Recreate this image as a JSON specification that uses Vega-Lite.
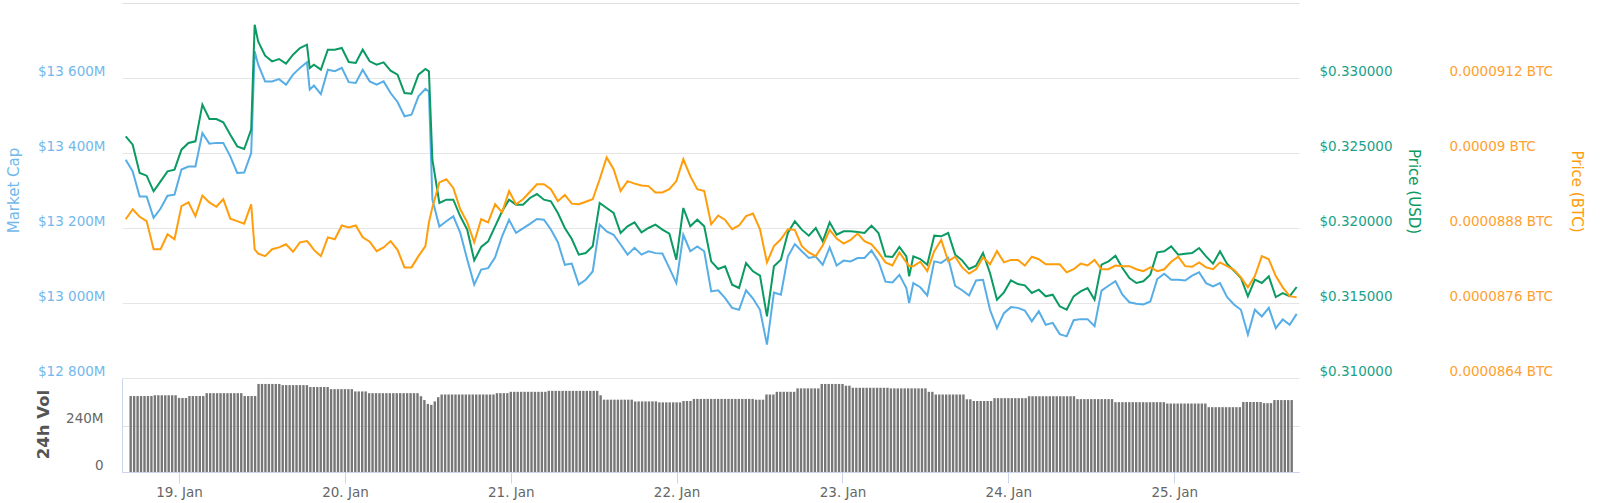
{
"$schema": "https://vega.github.io/schema/vega-lite/v6.json",
"background": "white",
"padding": {"left": 6, "top": 3, "right": 10, "bottom": 5},
"config": {"view": {"stroke": null}, "font": "DejaVu Sans"},
"datasets": {
"main": [
{"t":"2018-01-18T17:00","m":13382,"u":0.326111,"b":0.00008894},
{"t":"2018-01-18T18:00","m":13351,"u":0.325555,"b":0.0000891},
{"t":"2018-01-18T19:00","m":13284,"u":0.323666,"b":0.00008898},
{"t":"2018-01-18T20:00","m":13284,"u":0.323489,"b":0.00008891},
{"t":"2018-01-18T21:00","m":13227,"u":0.322444,"b":0.00008846},
{"t":"2018-01-18T22:00","m":13252,"u":0.323111,"b":0.00008846},
{"t":"2018-01-18T23:00","m":13286,"u":0.323778,"b":0.0000887},
{"t":"2018-01-19T00:00","m":13289,"u":0.323889,"b":0.00008862},
{"t":"2018-01-19T01:00","m":13356,"u":0.325222,"b":0.00008915},
{"t":"2018-01-19T02:00","m":13364,"u":0.325666,"b":0.00008921},
{"t":"2018-01-19T03:00","m":13364,"u":0.325778,"b":0.00008899},
{"t":"2018-01-19T04:00","m":13453,"u":0.328222,"b":0.00008932},
{"t":"2018-01-19T05:00","m":13425,"u":0.327266,"b":0.00008921},
{"t":"2018-01-19T06:00","m":13427,"u":0.327266,"b":0.00008914},
{"t":"2018-01-19T07:00","m":13427,"u":0.327044,"b":0.00008926},
{"t":"2018-01-19T08:00","m":13391,"u":0.326222,"b":0.00008895},
{"t":"2018-01-19T09:00","m":13347,"u":0.325444,"b":0.00008891},
{"t":"2018-01-19T10:00","m":13348,"u":0.325266,"b":0.00008887},
{"t":"2018-01-19T11:00","m":13400,"u":0.326555,"b":0.00008918},
{"t":"2018-01-19T11:30","m":13671,"u":0.333555,"b":0.00008846},
{"t":"2018-01-19T12:00","m":13636,"u":0.332444,"b":0.00008839},
{"t":"2018-01-19T13:00","m":13591,"u":0.331489,"b":0.00008835},
{"t":"2018-01-19T14:00","m":13591,"u":0.331111,"b":0.00008846},
{"t":"2018-01-19T15:00","m":13597,"u":0.331266,"b":0.00008849},
{"t":"2018-01-19T16:00","m":13582,"u":0.330955,"b":0.00008854},
{"t":"2018-01-19T17:00","m":13609,"u":0.331555,"b":0.00008842},
{"t":"2018-01-19T18:00","m":13627,"u":0.332000,"b":0.00008857},
{"t":"2018-01-19T19:00","m":13642,"u":0.332222,"b":0.00008859},
{"t":"2018-01-19T19:24","m":13569,"u":0.330666,"b":0.00008854},
{"t":"2018-01-19T20:00","m":13580,"u":0.330889,"b":0.00008845},
{"t":"2018-01-19T21:00","m":13557,"u":0.330555,"b":0.00008835},
{"t":"2018-01-19T22:00","m":13622,"u":0.331889,"b":0.00008865},
{"t":"2018-01-19T23:00","m":13618,"u":0.331889,"b":0.00008862},
{"t":"2018-01-20T00:00","m":13627,"u":0.332000,"b":0.00008884},
{"t":"2018-01-20T01:00","m":13589,"u":0.331066,"b":0.00008881},
{"t":"2018-01-20T02:00","m":13587,"u":0.331000,"b":0.00008884},
{"t":"2018-01-20T03:00","m":13622,"u":0.331889,"b":0.00008865},
{"t":"2018-01-20T04:00","m":13591,"u":0.331111,"b":0.00008858},
{"t":"2018-01-20T05:00","m":13582,"u":0.330889,"b":0.00008843},
{"t":"2018-01-20T06:00","m":13591,"u":0.331044,"b":0.00008849},
{"t":"2018-01-20T07:00","m":13560,"u":0.330489,"b":0.00008859},
{"t":"2018-01-20T08:00","m":13536,"u":0.330222,"b":0.00008845},
{"t":"2018-01-20T09:00","m":13498,"u":0.329000,"b":0.00008817},
{"t":"2018-01-20T10:00","m":13502,"u":0.328955,"b":0.00008817},
{"t":"2018-01-20T11:00","m":13551,"u":0.330222,"b":0.00008835},
{"t":"2018-01-20T12:00","m":13571,"u":0.330600,"b":0.00008851},
{"t":"2018-01-20T12:30","m":13564,"u":0.330444,"b":0.00008889},
{"t":"2018-01-20T13:00","m":13276,"u":0.324555,"b":0.00008913},
{"t":"2018-01-20T14:00","m":13204,"u":0.321666,"b":0.00008953},
{"t":"2018-01-20T15:00","m":13218,"u":0.321889,"b":0.00008958},
{"t":"2018-01-20T16:00","m":13231,"u":0.321889,"b":0.00008944},
{"t":"2018-01-20T17:00","m":13187,"u":0.320778,"b":0.0000891},
{"t":"2018-01-20T18:00","m":13116,"u":0.319889,"b":0.00008889},
{"t":"2018-01-20T19:00","m":13049,"u":0.317844,"b":0.00008857},
{"t":"2018-01-20T20:00","m":13089,"u":0.318733,"b":0.00008894},
{"t":"2018-01-20T21:00","m":13093,"u":0.319111,"b":0.00008889},
{"t":"2018-01-20T22:00","m":13122,"u":0.320111,"b":0.00008918},
{"t":"2018-01-20T23:00","m":13178,"u":0.321111,"b":0.00008905},
{"t":"2018-01-21T00:00","m":13222,"u":0.321889,"b":0.00008939},
{"t":"2018-01-21T01:00","m":13187,"u":0.321555,"b":0.00008918},
{"t":"2018-01-21T02:00","m":13199,"u":0.321555,"b":0.00008926},
{"t":"2018-01-21T03:00","m":13211,"u":0.322000,"b":0.00008938},
{"t":"2018-01-21T04:00","m":13224,"u":0.322266,"b":0.0000895},
{"t":"2018-01-21T05:00","m":13222,"u":0.321889,"b":0.0000895},
{"t":"2018-01-21T06:00","m":13196,"u":0.321778,"b":0.00008942},
{"t":"2018-01-21T07:00","m":13162,"u":0.321000,"b":0.00008923},
{"t":"2018-01-21T08:00","m":13102,"u":0.320000,"b":0.00008933},
{"t":"2018-01-21T09:00","m":13105,"u":0.319266,"b":0.00008919},
{"t":"2018-01-21T10:00","m":13049,"u":0.318222,"b":0.00008918},
{"t":"2018-01-21T11:00","m":13062,"u":0.318333,"b":0.00008922},
{"t":"2018-01-21T12:00","m":13084,"u":0.318778,"b":0.00008926},
{"t":"2018-01-21T13:00","m":13209,"u":0.321666,"b":0.00008958},
{"t":"2018-01-21T14:00","m":13191,"u":0.321333,"b":0.00008993},
{"t":"2018-01-21T15:00","m":13182,"u":0.321000,"b":0.00008974},
{"t":"2018-01-21T16:00","m":13156,"u":0.319666,"b":0.00008939},
{"t":"2018-01-21T17:00","m":13129,"u":0.320111,"b":0.00008955},
{"t":"2018-01-21T18:00","m":13147,"u":0.320378,"b":0.00008951},
{"t":"2018-01-21T19:00","m":13129,"u":0.319711,"b":0.00008948},
{"t":"2018-01-21T20:00","m":13138,"u":0.320000,"b":0.00008947},
{"t":"2018-01-21T21:00","m":13133,"u":0.320222,"b":0.00008937},
{"t":"2018-01-21T22:00","m":13132,"u":0.319889,"b":0.00008937},
{"t":"2018-01-21T23:00","m":13093,"u":0.319622,"b":0.00008942},
{"t":"2018-01-22T00:00","m":13053,"u":0.317889,"b":0.00008955},
{"t":"2018-01-22T01:00","m":13182,"u":0.321333,"b":0.0000899},
{"t":"2018-01-22T02:00","m":13138,"u":0.320111,"b":0.00008963},
{"t":"2018-01-22T03:00","m":13151,"u":0.320555,"b":0.00008942},
{"t":"2018-01-22T04:00","m":13138,"u":0.320111,"b":0.00008939},
{"t":"2018-01-22T05:00","m":13031,"u":0.317778,"b":0.00008886},
{"t":"2018-01-22T06:00","m":13034,"u":0.317266,"b":0.000089},
{"t":"2018-01-22T07:00","m":13013,"u":0.317444,"b":0.00008893},
{"t":"2018-01-22T08:00","m":12987,"u":0.316222,"b":0.00008878},
{"t":"2018-01-22T09:00","m":12982,"u":0.316000,"b":0.00008884},
{"t":"2018-01-22T10:00","m":13034,"u":0.317666,"b":0.00008899},
{"t":"2018-01-22T11:00","m":13012,"u":0.317111,"b":0.00008903},
{"t":"2018-01-22T12:00","m":12982,"u":0.316822,"b":0.00008878},
{"t":"2018-01-22T13:00","m":12889,"u":0.314111,"b":0.00008825},
{"t":"2018-01-22T14:00","m":13028,"u":0.317444,"b":0.00008851},
{"t":"2018-01-22T15:00","m":13022,"u":0.317889,"b":0.00008862},
{"t":"2018-01-22T16:00","m":13124,"u":0.319666,"b":0.00008878},
{"t":"2018-01-22T17:00","m":13157,"u":0.320444,"b":0.00008877},
{"t":"2018-01-22T18:00","m":13138,"u":0.319889,"b":0.00008851},
{"t":"2018-01-22T19:00","m":13120,"u":0.319489,"b":0.00008841},
{"t":"2018-01-22T20:00","m":13124,"u":0.320000,"b":0.00008835},
{"t":"2018-01-22T21:00","m":13102,"u":0.319111,"b":0.00008852},
{"t":"2018-01-22T22:00","m":13148,"u":0.320378,"b":0.00008877},
{"t":"2018-01-22T23:00","m":13100,"u":0.319555,"b":0.00008863},
{"t":"2018-01-23T00:00","m":13113,"u":0.319778,"b":0.00008855},
{"t":"2018-01-23T01:00","m":13111,"u":0.319778,"b":0.00008861},
{"t":"2018-01-23T02:00","m":13120,"u":0.319733,"b":0.00008871},
{"t":"2018-01-23T03:00","m":13120,"u":0.319666,"b":0.00008859},
{"t":"2018-01-23T04:00","m":13140,"u":0.320155,"b":0.00008854},
{"t":"2018-01-23T05:00","m":13111,"u":0.319666,"b":0.00008841},
{"t":"2018-01-23T06:00","m":13057,"u":0.318111,"b":0.00008825},
{"t":"2018-01-23T07:00","m":13055,"u":0.318066,"b":0.0000882},
{"t":"2018-01-23T08:00","m":13075,"u":0.318733,"b":0.00008841},
{"t":"2018-01-23T09:00","m":13040,"u":0.318111,"b":0.00008825},
{"t":"2018-01-23T09:24","m":13000,"u":0.316778,"b":0.00008819},
{"t":"2018-01-23T10:00","m":13053,"u":0.318111,"b":0.00008819},
{"t":"2018-01-23T11:00","m":13042,"u":0.317933,"b":0.00008826},
{"t":"2018-01-23T12:00","m":13020,"u":0.317555,"b":0.00008811},
{"t":"2018-01-23T13:00","m":13111,"u":0.319489,"b":0.00008843},
{"t":"2018-01-23T14:00","m":13107,"u":0.319444,"b":0.00008861},
{"t":"2018-01-23T15:00","m":13120,"u":0.319666,"b":0.00008827},
{"t":"2018-01-23T16:00","m":13046,"u":0.318222,"b":0.00008834},
{"t":"2018-01-23T17:00","m":13034,"u":0.317844,"b":0.00008817},
{"t":"2018-01-23T18:00","m":13020,"u":0.317266,"b":0.00008807},
{"t":"2018-01-23T19:00","m":13060,"u":0.317489,"b":0.00008814},
{"t":"2018-01-23T20:00","m":13062,"u":0.318333,"b":0.00008833},
{"t":"2018-01-23T21:00","m":12982,"u":0.317000,"b":0.00008822},
{"t":"2018-01-23T22:00","m":12933,"u":0.315222,"b":0.00008843},
{"t":"2018-01-23T23:00","m":12973,"u":0.315711,"b":0.00008825},
{"t":"2018-01-24T00:00","m":12989,"u":0.316511,"b":0.00008829},
{"t":"2018-01-24T01:00","m":12987,"u":0.316266,"b":0.00008829},
{"t":"2018-01-24T02:00","m":12980,"u":0.316178,"b":0.0000882},
{"t":"2018-01-24T03:00","m":12951,"u":0.315666,"b":0.00008834},
{"t":"2018-01-24T04:00","m":12978,"u":0.315889,"b":0.0000883},
{"t":"2018-01-24T05:00","m":12942,"u":0.315444,"b":0.00008822},
{"t":"2018-01-24T06:00","m":12947,"u":0.315555,"b":0.00008822},
{"t":"2018-01-24T07:00","m":12917,"u":0.314778,"b":0.00008822},
{"t":"2018-01-24T08:00","m":12911,"u":0.314555,"b":0.00008809},
{"t":"2018-01-24T09:00","m":12954,"u":0.315444,"b":0.00008814},
{"t":"2018-01-24T10:00","m":12957,"u":0.315778,"b":0.00008823},
{"t":"2018-01-24T11:00","m":12957,"u":0.316000,"b":0.0000882},
{"t":"2018-01-24T12:00","m":12938,"u":0.315222,"b":0.00008829},
{"t":"2018-01-24T13:00","m":13033,"u":0.317555,"b":0.00008814},
{"t":"2018-01-24T14:00","m":13046,"u":0.317778,"b":0.00008814},
{"t":"2018-01-24T15:00","m":13058,"u":0.318155,"b":0.0000882},
{"t":"2018-01-24T16:00","m":13022,"u":0.317333,"b":0.00008819},
{"t":"2018-01-24T17:00","m":13002,"u":0.316666,"b":0.00008819},
{"t":"2018-01-24T18:00","m":12998,"u":0.316333,"b":0.00008814},
{"t":"2018-01-24T19:00","m":12996,"u":0.316444,"b":0.00008811},
{"t":"2018-01-24T20:00","m":13004,"u":0.316889,"b":0.00008817},
{"t":"2018-01-24T21:00","m":13064,"u":0.318378,"b":0.00008811},
{"t":"2018-01-24T22:00","m":13078,"u":0.318444,"b":0.00008814},
{"t":"2018-01-24T23:00","m":13062,"u":0.318778,"b":0.00008826},
{"t":"2018-01-25T00:00","m":13062,"u":0.318222,"b":0.00008834},
{"t":"2018-01-25T01:00","m":13060,"u":0.318289,"b":0.00008819},
{"t":"2018-01-25T02:00","m":13073,"u":0.318333,"b":0.00008818},
{"t":"2018-01-25T03:00","m":13082,"u":0.318666,"b":0.00008825},
{"t":"2018-01-25T04:00","m":13053,"u":0.318111,"b":0.00008817},
{"t":"2018-01-25T05:00","m":13044,"u":0.317622,"b":0.00008814},
{"t":"2018-01-25T06:00","m":13053,"u":0.318444,"b":0.00008825},
{"t":"2018-01-25T07:00","m":13016,"u":0.317622,"b":0.00008819},
{"t":"2018-01-25T08:00","m":12996,"u":0.317155,"b":0.00008813},
{"t":"2018-01-25T09:00","m":12982,"u":0.316666,"b":0.00008801},
{"t":"2018-01-25T10:00","m":12916,"u":0.315444,"b":0.00008785},
{"t":"2018-01-25T11:00","m":12982,"u":0.316555,"b":0.00008803},
{"t":"2018-01-25T12:00","m":12964,"u":0.316333,"b":0.00008835},
{"t":"2018-01-25T13:00","m":12987,"u":0.316778,"b":0.0000883},
{"t":"2018-01-25T14:00","m":12933,"u":0.315400,"b":0.00008803},
{"t":"2018-01-25T15:00","m":12956,"u":0.315666,"b":0.00008785},
{"t":"2018-01-25T16:00","m":12942,"u":0.315444,"b":0.00008771},
{"t":"2018-01-25T17:00","m":12971,"u":0.316066,"b":0.00008769}
],
"vol": [
{"t":"2018-01-18T17:00","v":396},{"t":"2018-01-18T17:30","v":396},{"t":"2018-01-18T18:00","v":396},{"t":"2018-01-18T18:30","v":396},{"t":"2018-01-18T19:00","v":396},{"t":"2018-01-18T19:30","v":396},{"t":"2018-01-18T20:00","v":396},
{"t":"2018-01-18T20:30","v":400},{"t":"2018-01-18T21:00","v":400},{"t":"2018-01-18T21:30","v":400},{"t":"2018-01-18T22:00","v":400},{"t":"2018-01-18T22:30","v":400},{"t":"2018-01-18T23:00","v":400},{"t":"2018-01-18T23:30","v":400},
{"t":"2018-01-19T00:00","v":386},{"t":"2018-01-19T00:30","v":386},{"t":"2018-01-19T01:00","v":386},
{"t":"2018-01-19T01:30","v":396},{"t":"2018-01-19T02:00","v":396},{"t":"2018-01-19T02:30","v":396},{"t":"2018-01-19T03:00","v":396},{"t":"2018-01-19T03:30","v":396},
{"t":"2018-01-19T04:00","v":411},{"t":"2018-01-19T04:30","v":411},{"t":"2018-01-19T05:00","v":411},{"t":"2018-01-19T05:30","v":411},{"t":"2018-01-19T06:00","v":411},{"t":"2018-01-19T06:30","v":411},{"t":"2018-01-19T07:00","v":411},{"t":"2018-01-19T07:30","v":411},{"t":"2018-01-19T08:00","v":411},{"t":"2018-01-19T08:30","v":411},{"t":"2018-01-19T09:00","v":411},
{"t":"2018-01-19T09:30","v":396},{"t":"2018-01-19T10:00","v":396},{"t":"2018-01-19T10:30","v":396},{"t":"2018-01-19T11:00","v":396},
{"t":"2018-01-19T11:30","v":459},{"t":"2018-01-19T12:00","v":459},{"t":"2018-01-19T12:30","v":459},{"t":"2018-01-19T13:00","v":459},{"t":"2018-01-19T13:30","v":459},{"t":"2018-01-19T14:00","v":459},{"t":"2018-01-19T14:30","v":459},
{"t":"2018-01-19T15:00","v":453},{"t":"2018-01-19T15:30","v":453},{"t":"2018-01-19T16:00","v":453},{"t":"2018-01-19T16:30","v":453},{"t":"2018-01-19T17:00","v":453},{"t":"2018-01-19T17:30","v":453},{"t":"2018-01-19T18:00","v":453},{"t":"2018-01-19T18:30","v":453},
{"t":"2018-01-19T19:00","v":443},{"t":"2018-01-19T19:30","v":443},{"t":"2018-01-19T20:00","v":443},{"t":"2018-01-19T20:30","v":443},{"t":"2018-01-19T21:00","v":443},{"t":"2018-01-19T21:30","v":443},
{"t":"2018-01-19T22:00","v":432},{"t":"2018-01-19T22:30","v":432},{"t":"2018-01-19T23:00","v":432},{"t":"2018-01-19T23:30","v":432},{"t":"2018-01-20T00:00","v":432},{"t":"2018-01-20T00:30","v":432},{"t":"2018-01-20T01:00","v":432},
{"t":"2018-01-20T01:30","v":420},{"t":"2018-01-20T02:00","v":420},{"t":"2018-01-20T02:30","v":420},{"t":"2018-01-20T03:00","v":420},
{"t":"2018-01-20T03:30","v":411},{"t":"2018-01-20T04:00","v":411},{"t":"2018-01-20T04:30","v":411},{"t":"2018-01-20T05:00","v":411},{"t":"2018-01-20T05:30","v":411},{"t":"2018-01-20T06:00","v":411},{"t":"2018-01-20T06:30","v":411},{"t":"2018-01-20T07:00","v":411},{"t":"2018-01-20T07:30","v":411},{"t":"2018-01-20T08:00","v":411},{"t":"2018-01-20T08:30","v":411},{"t":"2018-01-20T09:00","v":411},{"t":"2018-01-20T09:30","v":411},{"t":"2018-01-20T10:00","v":411},{"t":"2018-01-20T10:30","v":411},
{"t":"2018-01-20T11:00","v":395},{"t":"2018-01-20T11:30","v":375},{"t":"2018-01-20T12:00","v":355},{"t":"2018-01-20T12:30","v":350},{"t":"2018-01-20T13:00","v":368},{"t":"2018-01-20T13:30","v":390},
{"t":"2018-01-20T14:00","v":404},{"t":"2018-01-20T14:30","v":404},{"t":"2018-01-20T15:00","v":404},{"t":"2018-01-20T15:30","v":404},{"t":"2018-01-20T16:00","v":404},{"t":"2018-01-20T16:30","v":404},{"t":"2018-01-20T17:00","v":404},{"t":"2018-01-20T17:30","v":404},{"t":"2018-01-20T18:00","v":404},{"t":"2018-01-20T18:30","v":404},{"t":"2018-01-20T19:00","v":404},{"t":"2018-01-20T19:30","v":404},{"t":"2018-01-20T20:00","v":404},{"t":"2018-01-20T20:30","v":404},{"t":"2018-01-20T21:00","v":404},{"t":"2018-01-20T21:30","v":404},
{"t":"2018-01-20T22:00","v":411},{"t":"2018-01-20T22:30","v":411},{"t":"2018-01-20T23:00","v":411},{"t":"2018-01-20T23:30","v":411},
{"t":"2018-01-21T00:00","v":418},{"t":"2018-01-21T00:30","v":418},{"t":"2018-01-21T01:00","v":418},{"t":"2018-01-21T01:30","v":418},{"t":"2018-01-21T02:00","v":418},{"t":"2018-01-21T02:30","v":418},{"t":"2018-01-21T03:00","v":418},{"t":"2018-01-21T03:30","v":418},{"t":"2018-01-21T04:00","v":418},{"t":"2018-01-21T04:30","v":418},{"t":"2018-01-21T05:00","v":418},
{"t":"2018-01-21T05:30","v":423},{"t":"2018-01-21T06:00","v":423},{"t":"2018-01-21T06:30","v":423},{"t":"2018-01-21T07:00","v":423},{"t":"2018-01-21T07:30","v":423},{"t":"2018-01-21T08:00","v":423},{"t":"2018-01-21T08:30","v":423},{"t":"2018-01-21T09:00","v":423},{"t":"2018-01-21T09:30","v":423},{"t":"2018-01-21T10:00","v":423},{"t":"2018-01-21T10:30","v":423},{"t":"2018-01-21T11:00","v":423},{"t":"2018-01-21T11:30","v":423},{"t":"2018-01-21T12:00","v":423},{"t":"2018-01-21T12:30","v":423},
{"t":"2018-01-21T13:00","v":400},
{"t":"2018-01-21T13:30","v":377},{"t":"2018-01-21T14:00","v":377},{"t":"2018-01-21T14:30","v":377},{"t":"2018-01-21T15:00","v":377},{"t":"2018-01-21T15:30","v":377},{"t":"2018-01-21T16:00","v":377},{"t":"2018-01-21T16:30","v":377},{"t":"2018-01-21T17:00","v":377},{"t":"2018-01-21T17:30","v":377},
{"t":"2018-01-21T18:00","v":368},{"t":"2018-01-21T18:30","v":368},{"t":"2018-01-21T19:00","v":368},{"t":"2018-01-21T19:30","v":368},{"t":"2018-01-21T20:00","v":368},{"t":"2018-01-21T20:30","v":368},{"t":"2018-01-21T21:00","v":368},
{"t":"2018-01-21T21:30","v":363},{"t":"2018-01-21T22:00","v":363},{"t":"2018-01-21T22:30","v":363},{"t":"2018-01-21T23:00","v":363},{"t":"2018-01-21T23:30","v":363},{"t":"2018-01-22T00:00","v":363},{"t":"2018-01-22T00:30","v":363},
{"t":"2018-01-22T01:00","v":370},{"t":"2018-01-22T01:30","v":370},{"t":"2018-01-22T02:00","v":370},
{"t":"2018-01-22T02:30","v":381},{"t":"2018-01-22T03:00","v":381},{"t":"2018-01-22T03:30","v":381},{"t":"2018-01-22T04:00","v":381},{"t":"2018-01-22T04:30","v":381},{"t":"2018-01-22T05:00","v":381},{"t":"2018-01-22T05:30","v":381},{"t":"2018-01-22T06:00","v":381},{"t":"2018-01-22T06:30","v":381},{"t":"2018-01-22T07:00","v":381},{"t":"2018-01-22T07:30","v":381},{"t":"2018-01-22T08:00","v":381},{"t":"2018-01-22T08:30","v":381},{"t":"2018-01-22T09:00","v":381},{"t":"2018-01-22T09:30","v":381},{"t":"2018-01-22T10:00","v":381},{"t":"2018-01-22T10:30","v":381},{"t":"2018-01-22T11:00","v":381},
{"t":"2018-01-22T11:30","v":377},{"t":"2018-01-22T12:00","v":377},{"t":"2018-01-22T12:30","v":377},
{"t":"2018-01-22T13:00","v":404},{"t":"2018-01-22T13:30","v":404},{"t":"2018-01-22T14:00","v":404},
{"t":"2018-01-22T14:30","v":418},{"t":"2018-01-22T15:00","v":418},{"t":"2018-01-22T15:30","v":418},{"t":"2018-01-22T16:00","v":418},{"t":"2018-01-22T16:30","v":418},{"t":"2018-01-22T17:00","v":418},
{"t":"2018-01-22T17:30","v":436},{"t":"2018-01-22T18:00","v":436},{"t":"2018-01-22T18:30","v":436},{"t":"2018-01-22T19:00","v":436},{"t":"2018-01-22T19:30","v":436},{"t":"2018-01-22T20:00","v":436},{"t":"2018-01-22T20:30","v":436},
{"t":"2018-01-22T21:00","v":459},{"t":"2018-01-22T21:30","v":459},{"t":"2018-01-22T22:00","v":459},{"t":"2018-01-22T22:30","v":459},{"t":"2018-01-22T23:00","v":459},{"t":"2018-01-22T23:30","v":459},{"t":"2018-01-23T00:00","v":459},
{"t":"2018-01-23T00:30","v":450},{"t":"2018-01-23T01:00","v":450},
{"t":"2018-01-23T01:30","v":439},{"t":"2018-01-23T02:00","v":439},{"t":"2018-01-23T02:30","v":439},{"t":"2018-01-23T03:00","v":439},{"t":"2018-01-23T03:30","v":439},{"t":"2018-01-23T04:00","v":439},{"t":"2018-01-23T04:30","v":439},{"t":"2018-01-23T05:00","v":439},{"t":"2018-01-23T05:30","v":439},{"t":"2018-01-23T06:00","v":439},{"t":"2018-01-23T06:30","v":439},
{"t":"2018-01-23T07:00","v":436},{"t":"2018-01-23T07:30","v":436},{"t":"2018-01-23T08:00","v":436},{"t":"2018-01-23T08:30","v":436},{"t":"2018-01-23T09:00","v":436},{"t":"2018-01-23T09:30","v":436},{"t":"2018-01-23T10:00","v":436},{"t":"2018-01-23T10:30","v":436},{"t":"2018-01-23T11:00","v":436},{"t":"2018-01-23T11:30","v":436},{"t":"2018-01-23T12:00","v":436},
{"t":"2018-01-23T12:30","v":418},{"t":"2018-01-23T13:00","v":418},
{"t":"2018-01-23T13:30","v":404},{"t":"2018-01-23T14:00","v":404},{"t":"2018-01-23T14:30","v":404},{"t":"2018-01-23T15:00","v":404},{"t":"2018-01-23T15:30","v":404},{"t":"2018-01-23T16:00","v":404},{"t":"2018-01-23T16:30","v":404},{"t":"2018-01-23T17:00","v":404},{"t":"2018-01-23T17:30","v":404},
{"t":"2018-01-23T18:00","v":379},{"t":"2018-01-23T18:30","v":379},
{"t":"2018-01-23T19:00","v":370},{"t":"2018-01-23T19:30","v":370},{"t":"2018-01-23T20:00","v":370},{"t":"2018-01-23T20:30","v":370},{"t":"2018-01-23T21:00","v":370},{"t":"2018-01-23T21:30","v":370},
{"t":"2018-01-23T22:00","v":385},{"t":"2018-01-23T22:30","v":385},{"t":"2018-01-23T23:00","v":385},{"t":"2018-01-23T23:30","v":385},{"t":"2018-01-24T00:00","v":385},{"t":"2018-01-24T00:30","v":385},{"t":"2018-01-24T01:00","v":385},{"t":"2018-01-24T01:30","v":385},{"t":"2018-01-24T02:00","v":385},{"t":"2018-01-24T02:30","v":385},
{"t":"2018-01-24T03:00","v":395},{"t":"2018-01-24T03:30","v":395},{"t":"2018-01-24T04:00","v":395},{"t":"2018-01-24T04:30","v":395},{"t":"2018-01-24T05:00","v":395},{"t":"2018-01-24T05:30","v":395},{"t":"2018-01-24T06:00","v":395},{"t":"2018-01-24T06:30","v":395},{"t":"2018-01-24T07:00","v":395},{"t":"2018-01-24T07:30","v":395},{"t":"2018-01-24T08:00","v":395},{"t":"2018-01-24T08:30","v":395},{"t":"2018-01-24T09:00","v":395},{"t":"2018-01-24T09:30","v":395},
{"t":"2018-01-24T10:00","v":380},{"t":"2018-01-24T10:30","v":380},{"t":"2018-01-24T11:00","v":380},{"t":"2018-01-24T11:30","v":380},{"t":"2018-01-24T12:00","v":380},{"t":"2018-01-24T12:30","v":380},{"t":"2018-01-24T13:00","v":380},{"t":"2018-01-24T13:30","v":380},{"t":"2018-01-24T14:00","v":380},{"t":"2018-01-24T14:30","v":380},{"t":"2018-01-24T15:00","v":380},
{"t":"2018-01-24T15:30","v":364},{"t":"2018-01-24T16:00","v":364},{"t":"2018-01-24T16:30","v":364},{"t":"2018-01-24T17:00","v":364},{"t":"2018-01-24T17:30","v":364},{"t":"2018-01-24T18:00","v":364},{"t":"2018-01-24T18:30","v":364},{"t":"2018-01-24T19:00","v":364},{"t":"2018-01-24T19:30","v":364},{"t":"2018-01-24T20:00","v":364},{"t":"2018-01-24T20:30","v":364},{"t":"2018-01-24T21:00","v":364},{"t":"2018-01-24T21:30","v":364},{"t":"2018-01-24T22:00","v":364},{"t":"2018-01-24T22:30","v":364},
{"t":"2018-01-24T23:00","v":357},{"t":"2018-01-24T23:30","v":357},{"t":"2018-01-25T00:00","v":357},{"t":"2018-01-25T00:30","v":357},{"t":"2018-01-25T01:00","v":357},{"t":"2018-01-25T01:30","v":357},{"t":"2018-01-25T02:00","v":357},{"t":"2018-01-25T02:30","v":357},{"t":"2018-01-25T03:00","v":357},{"t":"2018-01-25T03:30","v":357},{"t":"2018-01-25T04:00","v":357},{"t":"2018-01-25T04:30","v":357},
{"t":"2018-01-25T05:00","v":338},{"t":"2018-01-25T05:30","v":338},{"t":"2018-01-25T06:00","v":338},{"t":"2018-01-25T06:30","v":338},{"t":"2018-01-25T07:00","v":338},{"t":"2018-01-25T07:30","v":338},{"t":"2018-01-25T08:00","v":338},{"t":"2018-01-25T08:30","v":338},{"t":"2018-01-25T09:00","v":338},{"t":"2018-01-25T09:30","v":338},
{"t":"2018-01-25T10:00","v":365},{"t":"2018-01-25T10:30","v":365},{"t":"2018-01-25T11:00","v":365},{"t":"2018-01-25T11:30","v":365},{"t":"2018-01-25T12:00","v":365},{"t":"2018-01-25T12:30","v":365},
{"t":"2018-01-25T13:00","v":359},{"t":"2018-01-25T13:30","v":359},{"t":"2018-01-25T14:00","v":359},
{"t":"2018-01-25T14:30","v":375},{"t":"2018-01-25T15:00","v":375},{"t":"2018-01-25T15:30","v":375},{"t":"2018-01-25T16:00","v":375},{"t":"2018-01-25T16:30","v":375},{"t":"2018-01-25T17:00","v":375}
]
},
"spacing": 0,
"bounds": "flush",
"vconcat": [
{
"width": 1177,
"height": 375,
"data": {"name": "main"},
"layer": [
{
"mark": {"type": "line", "color": "#57aee6", "strokeWidth": 2},
"encoding": {
"x": {"field": "t", "type": "temporal",
"axis": {"orient": "top", "domain": true, "domainColor": "#e0e0e0", "domainWidth": 1.2, "labels": false, "ticks": false, "grid": false, "title": null},
"scale": {"domain": [{"year": 2018, "month": 1, "date": 18, "hours": 16, "minutes": 28}, {"year": 2018, "month": 1, "date": 25, "hours": 17, "minutes": 20}]}},
"y": {"field": "m", "type": "quantitative",
"scale": {"domain": [12800, 13800], "nice": false, "zero": false},
"axis": {"orient": "left", "values": [12800, 13000, 13200, 13400, 13600],
"labelExpr": "'$' + replace(format(datum.value, ','), ',', ' ') + 'M'",
"labelColor": "#72b8ec", "labelFontSize": 13.5, "labelPadding": 17, "labelOffset": -7,
"labelOverlap": false, "labelFlush": false,
"domain": false, "ticks": false, "grid": true, "gridColor": "#e6e6e6",
"title": "Market Cap", "titleColor": "#72b8ec", "titleFontSize": 15, "titleFontWeight": "normal",
"titleAngle": -90, "titleX": -109, "titleY": 187, "titleAlign": "center", "titleBaseline": "middle"}}
}
},
{
"mark": {"type": "line", "color": "#0a9a62", "strokeWidth": 2},
"encoding": {
"x": {"field": "t", "type": "temporal",
"axis": {"orient": "top", "domain": true, "domainColor": "#e0e0e0", "domainWidth": 1.2, "labels": false, "ticks": false, "grid": false, "title": null}},
"y": {"field": "u", "type": "quantitative",
"scale": {"domain": [0.31, 0.335], "nice": false, "zero": false},
"axis": {"orient": "right", "values": [0.31, 0.315, 0.32, 0.325, 0.33],
"labelExpr": "'$' + format(datum.value, '.6f')",
"labelColor": "#20a088", "labelFontSize": 13.5, "labelPadding": 20, "labelOffset": -7,
"labelOverlap": false, "labelFlush": false,
"domain": false, "ticks": false, "grid": false,
"title": "Price (USD)", "titleColor": "#0a9a62", "titleFontSize": 15, "titleFontWeight": "normal",
"titleAngle": 90, "titleX": 114, "titleY": 188, "titleAlign": "center", "titleBaseline": "middle"}}
}
},
{
"mark": {"type": "line", "color": "#ff9d0a", "strokeWidth": 2},
"encoding": {
"x": {"field": "t", "type": "temporal",
"axis": {"orient": "top", "domain": true, "domainColor": "#e0e0e0", "domainWidth": 1.2, "labels": false, "ticks": false, "grid": false, "title": null}},
"y": {"field": "b", "type": "quantitative",
"scale": {"domain": [0.0000864, 0.0000924], "nice": false, "zero": false},
"axis": {"orient": "right", "offset": 130, "values": [0.0000864, 0.0000876, 0.0000888, 0.00009, 0.0000912],
"labelExpr": "format(datum.value, '.7~f') + ' BTC'",
"labelColor": "#ffa030", "labelFontSize": 13.5, "labelPadding": 20, "labelOffset": -7,
"labelOverlap": false, "labelFlush": false,
"domain": false, "ticks": false, "grid": false,
"title": "Price (BTC)", "titleColor": "#ff9d0a", "titleFontSize": 15, "titleFontWeight": "normal",
"titleAngle": 90, "titleX": 147, "titleY": 188, "titleAlign": "center", "titleBaseline": "middle"}}
}
}
],
"resolve": {"scale": {"y": "independent"}}
},
{
"width": 1177,
"height": 94,
"data": {"name": "vol"},
"mark": {"type": "bar", "color": "#777777", "size": 2.4},
"encoding": {
"x": {"field": "t", "type": "temporal",
"scale": {"domain": [{"year": 2018, "month": 1, "date": 18, "hours": 16, "minutes": 28}, {"year": 2018, "month": 1, "date": 25, "hours": 17, "minutes": 20}]},
"axis": {"format": "%d. %b", "tickCount": {"interval": "day", "step": 1}, "title": null, "grid": false,
"labelColor": "#666666", "labelFontSize": 13.5, "labelPadding": 2, "labelFlush": false, "labelOverlap": false,
"tickColor": "#ccd6eb", "tickSize": 11, "domainColor": "#ccd6eb"}},
"y": {"field": "v", "type": "quantitative",
"scale": {"domain": [0, 490], "nice": false},
"axis": {"values": [0, 240], "labelExpr": "datum.value == 0 ? '0' : datum.value + 'M'",
"labelColor": "#666666", "labelFontSize": 13.5, "labelPadding": 19, "labelOffset": -7,
"labelOverlap": false, "labelFlush": false,
"domain": true, "domainColor": "#ccd6eb", "ticks": false, "grid": true, "gridColor": "#e0e0e0",
"title": "24h Vol", "titleColor": "#555555", "titleFontSize": 16.5, "titleFontWeight": "bold",
"titleAngle": -90, "titleX": -79, "titleY": 46, "titleAlign": "center", "titleBaseline": "middle"}}
}
}
]
}
